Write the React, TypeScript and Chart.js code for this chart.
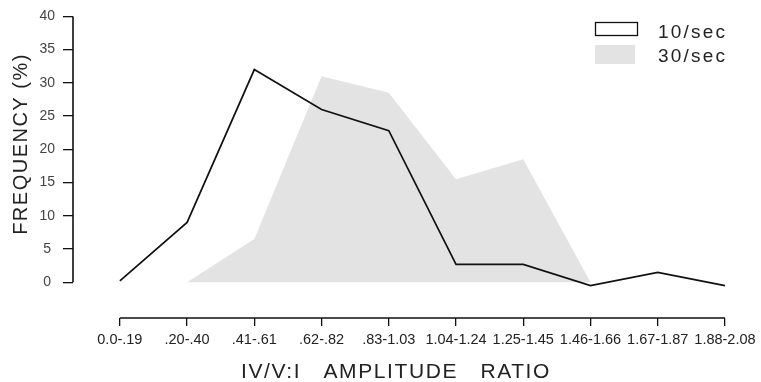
import React, { useEffect, useRef } from 'react';
import { Chart, registerables } from 'chart.js';

Chart.register(...registerables);

// ---- data ----
const CATEGORIES = ['0.0-.19', '.20-.40', '.41-.61', '.62-.82', '.83-1.03', '1.04-1.24', '1.25-1.45', '1.46-1.66', '1.67-1.87', '1.88-2.08'];
const RATE_10 = [0.2, 9, 32, 26, 22.8, 2.7, 2.7, -0.5, 1.5, -0.5];
const RATE_30: (number | null)[] = [null, 0, 6.5, 31, 28.5, 15.5, 18.5, 0, null, null];
const Y_TICKS = [0, 5, 10, 15, 20, 25, 30, 35, 40];
const SERIES_LABELS = ['10/sec', '30/sec'];
const X_TITLE = 'IV/V:I   AMPLITUDE   RATIO';
const Y_TITLE = 'FREQUENCY (%)';

const FONT = '"Liberation Sans", Arial, Helvetica, sans-serif';
const LINE_COLOR = '#111111';
const AREA_COLOR = '#e3e3e3';

const toPoints = (arr: (number | null)[]) =>
  arr.map((v, i) => (v === null ? null : { x: i, y: v })).filter((p) => p !== null) as { x: number; y: number }[];

const customPlugin = {
  id: 'customAxesTitlesLegend',
  afterDraw(chart: any) {
    const { ctx, chartArea, scales } = chart;
    const x = scales.x;
    const y = scales.y;
    ctx.save();
    // axis lines
    ctx.strokeStyle = '#111';
    ctx.lineWidth = 1.6;
    ctx.beginPath();
    ctx.moveTo(chartArea.left, y.getPixelForValue(Y_TICKS[Y_TICKS.length - 1]));
    ctx.lineTo(chartArea.left, y.getPixelForValue(Y_TICKS[0]));
    ctx.moveTo(x.getPixelForValue(0), chartArea.bottom);
    ctx.lineTo(x.getPixelForValue(CATEGORIES.length - 1), chartArea.bottom);
    ctx.stroke();

    // axis titles
    ctx.fillStyle = '#222';
    ctx.textBaseline = 'alphabetic';
    ctx.textAlign = 'center';
    (ctx as any).letterSpacing = '1.6px';
    ctx.font = `21px ${FONT}`;
    ctx.fillText(X_TITLE, 396, 378);
    (ctx as any).letterSpacing = '1.5px';
    ctx.font = `20px ${FONT}`;
    ctx.save();
    ctx.translate(27, 144);
    ctx.rotate(-Math.PI / 2);
    ctx.fillText(Y_TITLE, 0, 0);
    ctx.restore();

    // legend
    const ds = chart.data.datasets;
    ctx.textAlign = 'left';
    ctx.font = `19px ${FONT}`;
    (ctx as any).letterSpacing = '2.2px';
    ctx.strokeStyle = ds[0].borderColor;
    ctx.lineWidth = 1.3;
    ctx.strokeRect(595.5, 22.5, 42, 13);
    ctx.fillStyle = '#222';
    ctx.fillText(ds[0].label, 658, 38);
    ctx.fillStyle = ds[1].backgroundColor;
    ctx.fillRect(595, 45, 40, 19);
    ctx.fillStyle = '#222';
    ctx.fillText(ds[1].label, 658, 62);
    ctx.restore();
  },
};

export default function App() {
  const ref = useRef<HTMLCanvasElement | null>(null);

  useEffect(() => {
    if (!ref.current) return;
    Chart.defaults.font.family = FONT;
    const chart = new Chart(ref.current, {
      type: 'line',
      data: {
        datasets: [
          {
            label: SERIES_LABELS[0],
            data: toPoints(RATE_10),
            borderColor: LINE_COLOR,
            backgroundColor: LINE_COLOR,
            borderWidth: 1.7,
            pointRadius: 0,
            fill: false,
            tension: 0,
          },
          {
            label: SERIES_LABELS[1],
            data: toPoints(RATE_30),
            borderColor: 'rgba(0,0,0,0)',
            backgroundColor: AREA_COLOR,
            borderWidth: 0,
            pointRadius: 0,
            fill: 'origin',
            tension: 0,
          },
        ],
      },
      options: {
        responsive: false,
        maintainAspectRatio: false,
        animation: false,
        layout: { padding: { top: 14, right: 21, left: 0, bottom: 0 } },
        plugins: {
          legend: { display: false },
          tooltip: { enabled: false },
        },
        scales: {
          x: {
            type: 'linear',
            min: -0.697,
            max: 9.193,
            afterBuildTicks: (s: any) => {
              s.ticks = CATEGORIES.map((_, i) => ({ value: i }));
            },
            afterFit: (s: any) => {
              s.height = 64;
            },
            ticks: {
              callback: (_v: any, i: number) => CATEGORIES[i],
              font: { size: 14.5 },
              color: '#222',
              padding: 5,
              maxRotation: 0,
              autoSkip: false,
            },
            grid: { drawOnChartArea: false, drawTicks: true, tickLength: 8, color: '#111', lineWidth: 1.3 },
            border: { display: false },
          },
          y: {
            min: -5.373,
            max: 40,
            afterBuildTicks: (s: any) => {
              s.ticks = Y_TICKS.map((v) => ({ value: v }));
            },
            afterFit: (s: any) => {
              s.width = 73;
            },
            ticks: {
              callback: (v: any) => String(v),
              font: { size: 14 },
              color: '#444',
              padding: 8,
              crossAlign: 'center',
            },
            grid: { drawOnChartArea: false, drawTicks: true, tickLength: 10, color: '#111', lineWidth: 1.3 },
            border: { display: false },
          },
        },
      },
      plugins: [customPlugin],
    } as any);
    return () => chart.destroy();
  }, []);

  return (
    <div style={{ position: 'absolute', left: 0, top: 0, width: 761, height: 382, background: '#fff' }}>
      <canvas ref={ref} width={761} height={382} />
    </div>
  );
}
